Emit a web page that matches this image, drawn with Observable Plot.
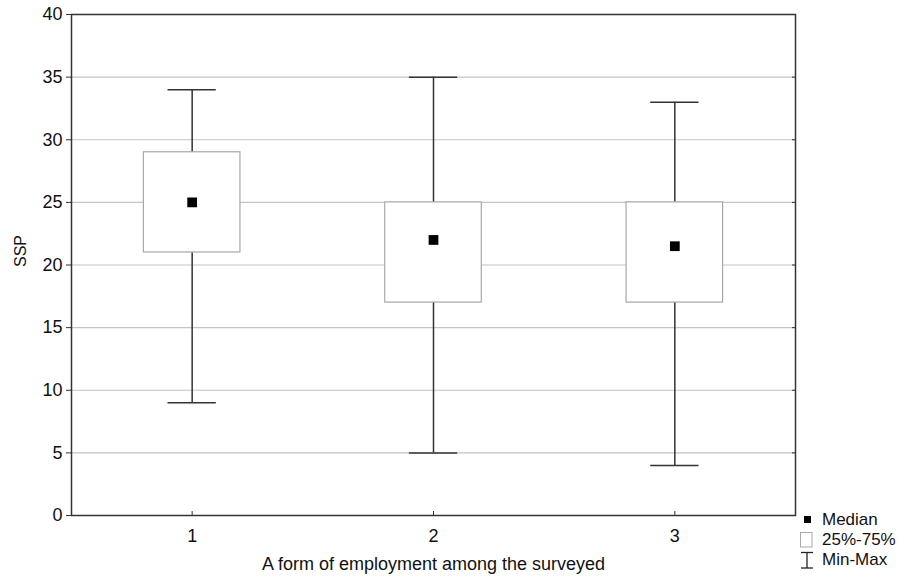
<!DOCTYPE html>
<html>
<head>
<meta charset="utf-8">
<script src="https://cdn.jsdelivr.net/npm/d3@7"></script>
<script src="https://cdn.jsdelivr.net/npm/@observablehq/plot@0.6"></script>
<style>
  html, body { margin: 0; padding: 0; background: #fff; }
  #wrap { position: relative; width: 913px; height: 577px; font-family: "Liberation Sans", Arial, sans-serif; }
  #legend { position: absolute; left: 0; top: 0; width: 913px; height: 577px; pointer-events: none; }
</style>
</head>
<body>
<div id="wrap"></div>
<script>
const groups = [1, 2, 3];
const mins = [9, 5, 4];
const q1s = [21, 17, 17];
const medians = [25, 22, 21.5];
const q3s = [29, 25, 25];
const maxs = [34, 35, 33];
const yTicks = [0, 5, 10, 15, 20, 25, 30, 35, 40];
const gridLines = [5, 10, 15, 20, 25, 30, 35];
const xTicks = [1, 2, 3];
const yLabel = "SSP";
const xLabel = "A form of employment among the surveyed";
const legendLabels = ["Median", "25%-75%", "Min-Max"];

const boxHalf = 0.2;
const capHalf = 0.1;
const rows = groups.map((g, i) => ({g, min: mins[i], q1: q1s[i], med: medians[i], q3: q3s[i], max: maxs[i]}));

const chart = Plot.plot({
  width: 913,
  height: 577,
  marginLeft: 71,
  marginRight: 118,
  marginTop: 14,
  marginBottom: 62,
  style: {fontFamily: "'Liberation Sans', Arial, sans-serif", fontSize: "18px", color: "#111", background: "#fff"},
  x: {domain: [0.5, 3.5]},
  y: {domain: [0, 40]},
  marks: [
    Plot.ruleY(gridLines, {y: d => d, stroke: "#c4c4c4", strokeWidth: 1.2}),
    Plot.ruleX(rows, {x: "g", y1: "min", y2: "max", stroke: "#333", strokeWidth: 1.5}),
    Plot.ruleY(rows, {y: "min", x1: d => d.g - capHalf, x2: d => d.g + capHalf, stroke: "#333", strokeWidth: 1.5}),
    Plot.ruleY(rows, {y: "max", x1: d => d.g - capHalf, x2: d => d.g + capHalf, stroke: "#333", strokeWidth: 1.5}),
    Plot.rect(rows, {x1: d => d.g - boxHalf, x2: d => d.g + boxHalf, y1: "q1", y2: "q3", fill: "#fff", stroke: "#a8a8a8", strokeWidth: 1.2}),
    Plot.dot(rows, {x: "g", y: "med", symbol: "square", r: 5.5, fill: "#000", stroke: "none"}),
    Plot.frame({stroke: "#333", strokeWidth: 1.5}),
    Plot.axisY({ticks: yTicks, tickSize: 5, tickPadding: 4, stroke: "#333", fontSize: 18, label: null}),
    Plot.axisY({anchor: "right", ticks: yTicks, tickSize: -4, tickFormat: () => "", label: null, stroke: "#333"}),
    Plot.axisX({ticks: xTicks, tickSize: 0, tickPadding: 14, tickFormat: d => String(d), fontSize: 18, label: null}),
    Plot.axisX({ticks: xTicks, tickSize: -4, tickFormat: () => "", label: null, stroke: "#333"}),
    Plot.text([yLabel], {text: d => d, frameAnchor: "left", dx: -51, dy: 2, rotate: -90, fontSize: 16, fill: "#111"}),
    Plot.text([xLabel], {text: d => d, frameAnchor: "bottom", dy: 54, fontSize: 18, fill: "#111"})
  ]
});

const wrap = document.getElementById("wrap");
wrap.appendChild(chart);

// Legend (outside the plot frame, bottom right)
const leg = d3.select(wrap).append("svg").attr("id", "legend").attr("width", 913).attr("height", 577);
leg.append("rect").attr("x", 804).attr("y", 516).attr("width", 7).attr("height", 7).attr("fill", "#000");
leg.append("rect").attr("x", 800.5).attr("y", 532.5).attr("width", 11.5).attr("height", 14.5).attr("fill", "#fff").attr("stroke", "#aaa").attr("stroke-width", 1);
const wg = leg.append("g").attr("stroke", "#222").attr("stroke-width", 1.3);
wg.append("line").attr("x1", 801).attr("x2", 813).attr("y1", 552.5).attr("y2", 552.5);
wg.append("line").attr("x1", 807).attr("x2", 807).attr("y1", 552.5).attr("y2", 568);
wg.append("line").attr("x1", 801).attr("x2", 813).attr("y1", 568).attr("y2", 568);
const baselines = [524.5, 545, 564.5];
leg.selectAll("text.lg").data(legendLabels).join("text")
  .attr("class", "lg")
  .attr("x", 822)
  .attr("y", (d, i) => baselines[i])
  .attr("font-family", "'Liberation Sans', Arial, sans-serif")
  .attr("font-size", 17)
  .attr("fill", "#111")
  .text(d => d);
</script>
</body>
</html>
